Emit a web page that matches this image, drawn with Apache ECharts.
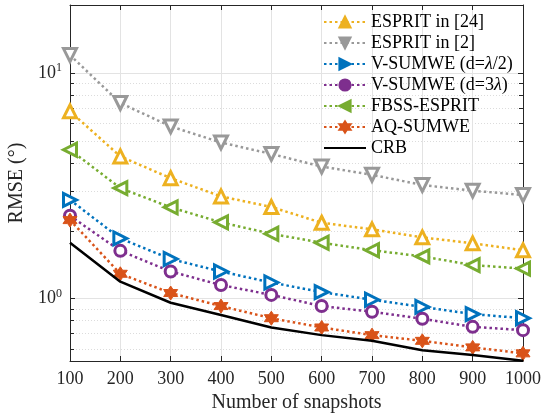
<!DOCTYPE html>
<html>
<head>
<meta charset="utf-8">
<style>
  html, body { margin: 0; padding: 0; background: #fff; }
  #chart { width: 551px; height: 416px; }
</style>
<script src="https://cdn.jsdelivr.net/npm/echarts@6/dist/echarts.min.js"></script>
</head>
<body>
<div id="chart"></div>
<script>
// 数据：快拍数与各方法的 RMSE
const snapshots = [100, 200, 300, 400, 500, 600, 700, 800, 900, 1000]
const espritRef24 = [6.76, 4.27, 3.42, 2.84, 2.55, 2.17, 2.03, 1.87, 1.76, 1.64]
const espritRef2 = [12.0, 7.36, 5.8, 4.92, 4.38, 3.85, 3.54, 3.19, 3.01, 2.88]
const vsumweHalf = [2.74, 1.85, 1.5, 1.32, 1.18, 1.07, 0.99, 0.92, 0.855, 0.82]
const vsumwe3 = [2.33, 1.63, 1.32, 1.15, 1.04, 0.928, 0.876, 0.815, 0.751, 0.726]
const fbssEsprit = [4.57, 3.09, 2.54, 2.18, 1.94, 1.77, 1.64, 1.54, 1.41, 1.36]
const aqSumwe = [2.23, 1.29, 1.06, 0.928, 0.82, 0.746, 0.69, 0.651, 0.609, 0.573]
const crb = [1.77, 1.19, 0.96, 0.847, 0.746, 0.69, 0.651, 0.592, 0.563, 0.531]
const xTicks = { min: 100, max: 1000, interval: 100 }
const yRange = { min: 0.53, max: 20 }

const FONT = 'Liberation Serif'
const AXIS_COLOR = '#262626'
const HEXAGRAM = 'path://M10 0L12.89 5L18.66 5L15.77 10L18.66 15L12.89 15L10 20L7.11 15L1.34 15L4.23 10L1.34 5L7.11 5Z'

function pairs(values) {
  return snapshots.map((x, i) => [x, values[i]])
}

function makeSeries(name, values, color, symbol, opts) {
  return Object.assign({
    name: name,
    type: 'line',
    data: pairs(values),
    symbol: symbol,
    symbolSize: 13,
    color: color,
    lineStyle: { color: color, width: 2.5, type: [2.5, 3] },
    itemStyle: { color: '#fff', borderColor: color, borderWidth: 3 },
    z: 3
  }, opts || {})
}

// 对数轴标签只显示 10 的整数次幂
function powLabel(v) {
  const e = Math.log10(v)
  if (Math.abs(e - Math.round(e)) > 1e-6) return ''
  return '10{sup|' + Math.round(e) + '}'
}

const yBase = {
  type: 'log',
  logBase: 10,
  min: yRange.min,
  max: yRange.max,
  axisLine: { show: true, lineStyle: { color: AXIS_COLOR, width: 1 } },
  axisTick: { show: true, inside: true, length: 5, lineStyle: { color: AXIS_COLOR } },
  minorTick: { show: true, splitNumber: 9, length: 4, lineStyle: { color: AXIS_COLOR } }
}

const series = [
  makeSeries('ESPRIT in [24]', espritRef24, '#EDB120', 'triangle'),
  makeSeries('ESPRIT in [2]', espritRef2, '#999999', 'triangle', { symbolRotate: 180 }),
  makeSeries('V-SUMWE (d=λ/2)', vsumweHalf, '#0072BD', 'triangle', { symbolRotate: -90 }),
  makeSeries('V-SUMWE (d=3λ)', vsumwe3, '#7E2F8E', 'circle', { symbolSize: 11 }),
  makeSeries('FBSS-ESPRIT', fbssEsprit, '#77AC30', 'triangle', { symbolRotate: 90 }),
  makeSeries('AQ-SUMWE', aqSumwe, '#D95319', HEXAGRAM, {
    symbolSize: 14,
    itemStyle: { color: '#D95319', borderColor: '#D95319', borderWidth: 1 }
  }),
  {
    name: 'CRB',
    type: 'line',
    data: pairs(crb),
    symbol: 'none',
    color: '#000',
    lineStyle: { color: '#000', width: 2.5 },
    z: 4
  }
]

// 图例中标记为实心，CRB 只画线
const legendData = series.map(s => s.name === 'CRB'
  ? { name: s.name, itemStyle: { opacity: 0 } }
  : { name: s.name, itemStyle: { color: s.color, borderColor: s.color } })

const option = {
  animation: false,
  backgroundColor: '#fff',
  textStyle: { fontFamily: FONT },
  grid: { left: 70, right: 28, top: 5, bottom: 55, outerBoundsMode: 'none' },
  legend: {
    data: legendData,
    left: 323,
    top: 12,
    padding: 0,
    orient: 'vertical',
    itemWidth: 42,
    itemHeight: 14,
    itemGap: 1,
    textStyle: {
      fontFamily: FONT,
      fontSize: 18,
      color: '#000',
      lineHeight: 20,
      rich: { i: { fontFamily: FONT, fontSize: 18, fontStyle: 'italic', color: '#000' } }
    },
    formatter: name => name.replace('λ', '{i|λ}')
  },
  xAxis: [{
    type: 'value',
    min: xTicks.min,
    max: xTicks.max,
    interval: xTicks.interval,
    name: 'Number of snapshots',
    nameLocation: 'middle',
    nameGap: 31,
    nameTextStyle: { fontFamily: FONT, fontSize: 20, color: AXIS_COLOR },
    axisLine: { show: true, lineStyle: { color: AXIS_COLOR, width: 1 } },
    axisTick: { show: true, inside: true, length: 5, lineStyle: { color: AXIS_COLOR } },
    axisLabel: { fontFamily: FONT, fontSize: 18, color: AXIS_COLOR, margin: 9, formatter: v => String(v) },
    splitLine: { show: true, lineStyle: { color: '#e3e3e3', width: 1 } }
  }, {
    type: 'value',
    position: 'top',
    min: xTicks.min,
    max: xTicks.max,
    interval: xTicks.interval,
    axisLine: { show: true, lineStyle: { color: AXIS_COLOR, width: 1 } },
    axisTick: { show: true, inside: true, length: 5, lineStyle: { color: AXIS_COLOR } },
    axisLabel: { show: false },
    splitLine: { show: false }
  }],
  yAxis: [Object.assign({}, yBase, {
    name: 'RMSE (°)',
    nameLocation: 'middle',
    nameGap: 28,
    nameTextStyle: { fontFamily: FONT, fontSize: 20, color: AXIS_COLOR },
    axisLabel: {
      fontFamily: FONT,
      fontSize: 18,
      color: AXIS_COLOR,
      margin: 8,
      showMinLabel: false,
      showMaxLabel: false,
      formatter: powLabel,
      rich: { sup: { fontFamily: FONT, fontSize: 12, color: AXIS_COLOR, verticalAlign: 'top', padding: [0, 0, 10, 0] } }
    },
    splitLine: { show: true, lineStyle: { color: '#e3e3e3', width: 1 } },
    minorSplitLine: { show: true, lineStyle: { color: '#dcdcdc', width: 1, type: [1, 2] } }
  }), Object.assign({}, yBase, {
    position: 'right',
    axisLabel: { show: false },
    splitLine: { show: false }
  })],
  series: series
}

const chart = echarts.init(document.getElementById('chart'), null, { renderer: 'canvas' })
chart.setOption(option)
window.addEventListener('resize', () => chart.resize())
</script>
</body>
</html>
